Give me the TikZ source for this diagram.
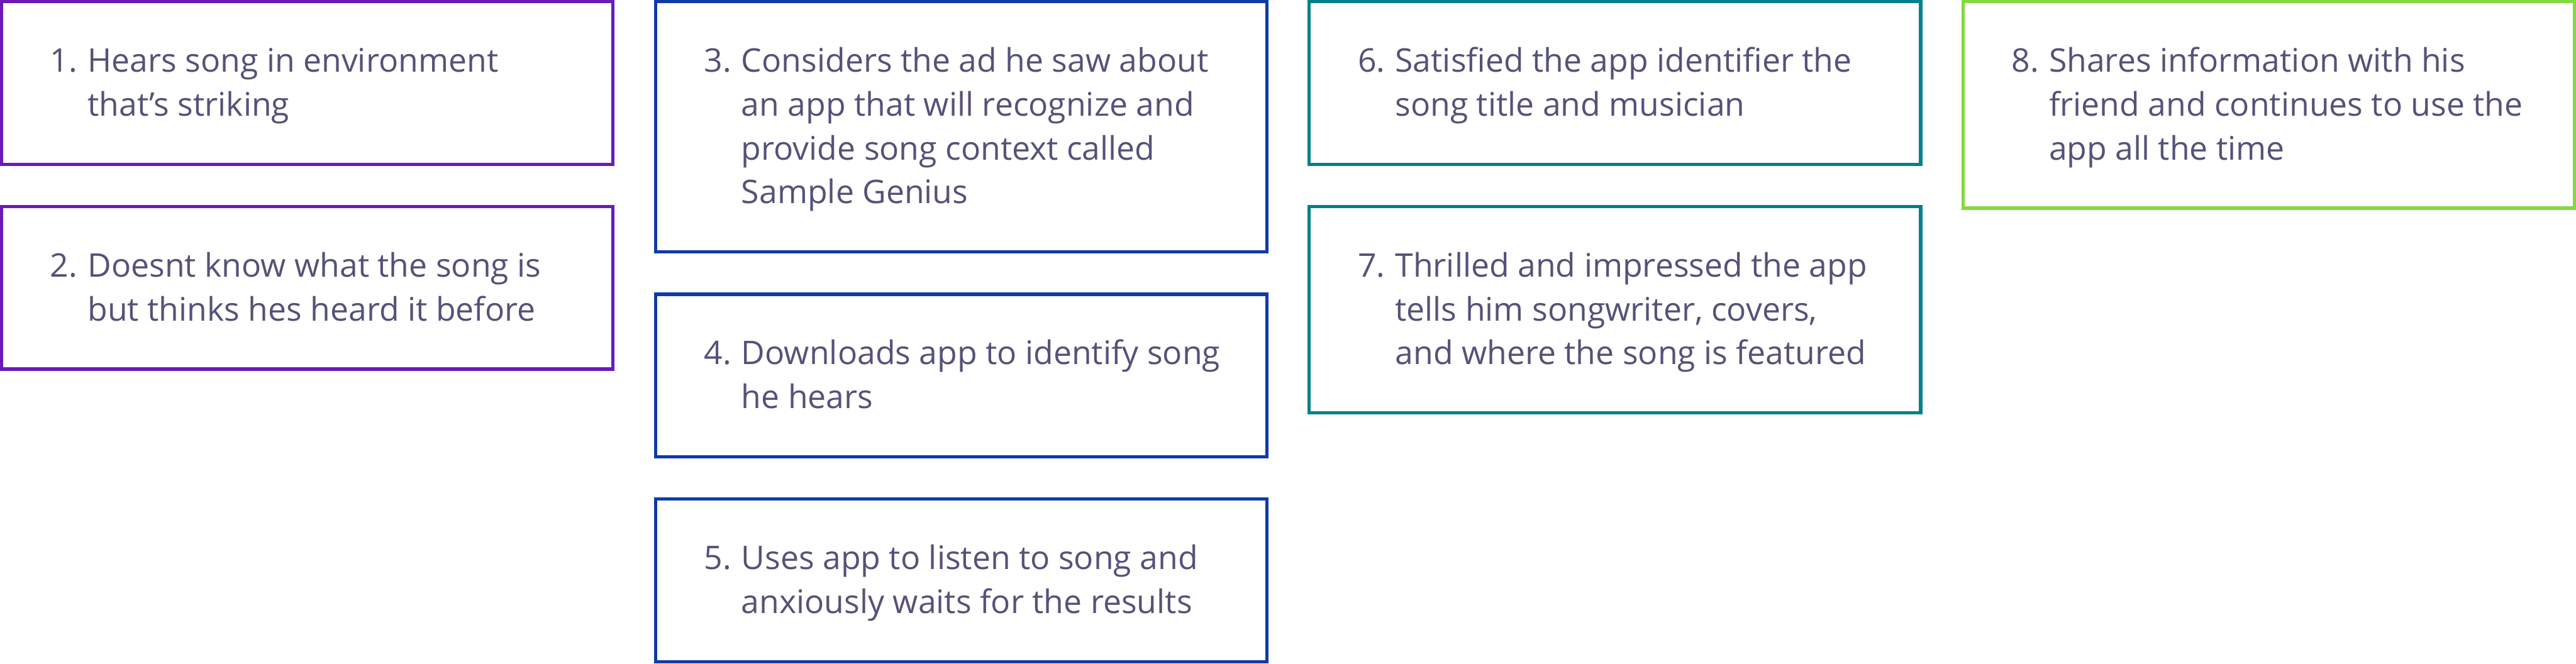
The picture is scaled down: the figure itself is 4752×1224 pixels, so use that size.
\documentclass[tikz,border=0pt]{standalone}
\usepackage{fontspec}
\setmainfont{Open Sans}
\usetikzlibrary{calc}
\definecolor{cpurple}{RGB}{106,27,182}
\definecolor{cblue}{RGB}{16,58,168}
\definecolor{cteal}{RGB}{0,128,138}
\definecolor{cgreen}{RGB}{132,217,66}
\definecolor{ctext}{RGB}{84,82,120}
\tikzset{
  card/.style={draw=#1, line width=1.5pt, rectangle, inner sep=0pt, minimum width=282pt},
  cardtext/.style={anchor=west, inner sep=0pt, text=ctext, font=\fontsize{15pt}{20.25pt}\selectfont, yshift=-1pt},
}
\begin{document}
\begin{tikzpicture}[x=0.25pt, y=-0.25pt]
\useasboundingbox (0,0) rectangle (4752,1224);
% boxes
\node[card=cpurple, minimum height=75pt] (b1) at (567,153) {};
\node[card=cpurple, minimum height=75pt] (b2) at (567,531) {};
\node[card=cblue, minimum height=115.5pt] (b3) at (1773,234) {};
\node[card=cblue, minimum height=75pt] (b4) at (1773,693) {};
\node[card=cblue, minimum height=75pt] (b5) at (1773,1071) {};
\node[card=cteal, minimum height=75pt] (b6) at (2979,153) {};
\node[card=cteal, minimum height=95.25pt] (b7) at (2979,571.5) {};
\node[card=cgreen, minimum height=95.25pt] (b8) at (4185,193.5) {};
% texts
\node[cardtext] (t1) at ($(b1.west)+(92,0)$) {\begin{tabular}{@{}p{17.25pt}@{}l@{}}1.&Hears song in environment\\&that’s striking\end{tabular}};
\node[cardtext] (t2) at ($(b2.west)+(92,0)$) {\begin{tabular}{@{}p{17.25pt}@{}l@{}}2.&Doesnt know what the song is\\&but thinks hes heard it before\end{tabular}};
\node[cardtext] (t3) at ($(b3.west)+(92,0)$) {\begin{tabular}{@{}p{17.25pt}@{}l@{}}3.&Considers the ad he saw about\\&an app that will recognize and\\&provide song context called\\&Sample Genius\end{tabular}};
\node[cardtext] (t4) at ($(b4.west)+(92,0)$) {\begin{tabular}{@{}p{17.25pt}@{}l@{}}4.&Downloads app to identify song\\&he hears\end{tabular}};
\node[cardtext] (t5) at ($(b5.west)+(92,0)$) {\begin{tabular}{@{}p{17.25pt}@{}l@{}}5.&Uses app to listen to song and\\&anxiously waits for the results\end{tabular}};
\node[cardtext] (t6) at ($(b6.west)+(92,0)$) {\begin{tabular}{@{}p{17.25pt}@{}l@{}}6.&Satisfied the app identifier the\\&song title and musician\end{tabular}};
\node[cardtext] (t7) at ($(b7.west)+(92,0)$) {\begin{tabular}{@{}p{17.25pt}@{}l@{}}7.&Thrilled and impressed the app\\&tells him songwriter, covers,\\&and where the song is featured\end{tabular}};
\node[cardtext] (t8) at ($(b8.west)+(92,0)$) {\begin{tabular}{@{}p{17.25pt}@{}l@{}}8.&Shares information with his\\&friend and continues to use the\\&app all the time\end{tabular}};
\end{tikzpicture}
\end{document}
